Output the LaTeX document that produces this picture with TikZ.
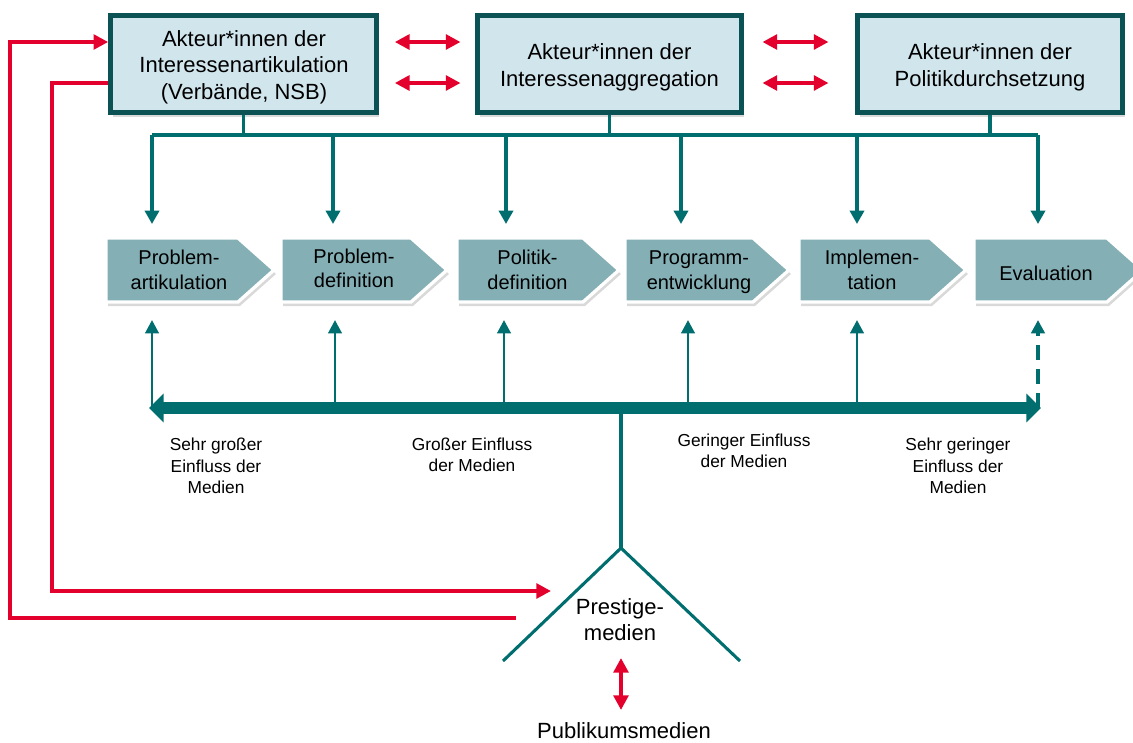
\documentclass[tikz,border=0pt]{standalone}
\usepackage{fontspec}
\setmainfont{Liberation Sans}
\usetikzlibrary{arrows.meta,shadows,calc}
\definecolor{tealline}{HTML}{006D6F}
\definecolor{boxline}{HTML}{0B5254}
\definecolor{boxfill}{HTML}{D1E5ED}
\definecolor{chevfill}{HTML}{83AFB5}
\definecolor{redline}{HTML}{E3002C}
\newcommand{\mychev}[2]{%
  \path[chevshape] (#1,238) -- ({#2-36},238) -- (#2,270) -- ({#2-36},302) -- (#1,302) -- cycle;}
\begin{document}
\begin{tikzpicture}[x=0.75pt,y=-0.75pt,
  akteur/.style={draw=boxline, line width=3.5pt, fill=boxfill,
    inner sep=0pt, minimum height=72.75pt,
    drop shadow={shadow xshift=2pt,shadow yshift=-3pt,opacity=0.3}},
  akttext/.style={align=center, font=\fontsize{16.5}{20}\selectfont, inner sep=0pt},
  chevshape/.style={fill=chevfill, draw=white, line width=2.5pt,
    drop shadow={shadow xshift=1.5pt,shadow yshift=-3pt,opacity=0.3}},
  chevtext/.style={align=center, font=\fontsize{15}{18.5}\selectfont, inner sep=0pt},
  medtext/.style={align=center, font=\fontsize{13}{16}\selectfont, inner sep=0pt},
  bigtext/.style={align=center, font=\fontsize{16.5}{19.5}\selectfont, inner sep=0pt},
  downarrow/.style={draw=tealline, line width=2.6pt, -{Triangle[width=10.5pt,length=10pt]}},
  uparrow/.style={draw=tealline, line width=2.2pt, -{Triangle[width=10pt,length=10pt]}},
  tealbus/.style={draw=tealline, line width=2.6pt},
  redarrow/.style={draw=redline, line width=3pt, -{Triangle[width=11pt,length=11pt]}},
  redboth/.style={draw=redline, line width=3pt, {Triangle[width=11pt,length=11pt]}-{Triangle[width=11pt,length=11pt]}},
]
\useasboundingbox (0,0) rectangle (1133,743);

% top actor boxes
\node[akteur, minimum width=199.5pt] (b1) at (243.5,64) {};
\node[akteur, minimum width=198pt] (b2) at (609.5,64) {};
\node[akteur, minimum width=198.75pt] (b3) at (990,64) {};
\node[akttext] (b1t) at (244,67) {Akteur*innen der\\Interessenartikulation\\(Verbände, NSB)};
\node[akttext] (b2t) at (609.5,67) {Akteur*innen der\\Interessenaggregation};
\node[akttext] (b3t) at (990,67) {Akteur*innen der\\Politikdurchsetzung};

% red arrows between boxes
\draw[redboth, shorten <=12pt, shorten >=11pt] ([yshift=16.5pt]b1.east) -- ([yshift=16.5pt]b2.west);
\draw[redboth, shorten <=12pt, shorten >=11pt] ([yshift=-14.25pt]b1.east) -- ([yshift=-14.25pt]b2.west);
\draw[redboth, shorten <=14pt, shorten >=20pt] ([yshift=16.5pt]b2.east) -- ([yshift=16.5pt]b3.west);
\draw[redboth, shorten <=14pt, shorten >=20pt] ([yshift=-14.25pt]b2.east) -- ([yshift=-14.25pt]b3.west);

% teal bus
\coordinate (busL) at (152,135);
\coordinate (busR) at (1038,135);
\draw[tealbus] (b1.south) -- (b1.south |- busL);
\draw[tealbus] (b2.south) -- (b2.south |- busL);
\draw[tealbus] (b3.south) -- (b3.south |- busL);
\draw[tealbus] (busL) -- (busR);
\foreach \i/\x in {1/152,2/333,3/506,4/681,5/857,6/1038}{
  \coordinate (d\i) at (\x,224);
  \draw[downarrow] (\x,135) -- (d\i);
}

% chevrons
\mychev{106}{274}
\mychev{281}{447}
\mychev{457}{619}
\mychev{625}{789}
\mychev{799}{966}
\mychev{974}{1143}
\node[chevtext] (c1) at (179,270) {Problem-\\artikulation};
\node[chevtext] (c2) at (354,268.5) {Problem-\\definition};
\node[chevtext] (c3) at (527.5,270) {Politik-\\definition};
\node[chevtext] (c4) at (699,272) {Programm-\\entwicklung};
\node[chevtext] (c5) at (872,270) {Implemen-\\tation};
\node[chevtext] (c6) at (1046,273) {Evaluation};

% media influence bar
\coordinate (barL) at (149,408);
\coordinate (barR) at (1041,408);
\foreach \i/\x in {1/152,2/335,3/504,4/688,5/857}{
  \coordinate (u\i) at (\x,320);
  \draw[uparrow] (\x,408) -- (u\i);
}
\coordinate (u6) at (1038,320);
\draw[uparrow, line width=2.6pt, dash pattern=on 11pt off 7pt] (1038,408) -- (u6);
\draw[draw=tealline, line width=9.5pt,
  {Triangle[width=21pt,length=11pt]}-{Triangle[width=21pt,length=11pt]}] (barL) -- (barR);

\node[medtext] (m1) at (216,466) {Sehr großer\\Einfluss der\\Medien};
\node[medtext] (m2) at (472,455) {Großer Einfluss\\der Medien};
\node[medtext] (m3) at (744,451) {Geringer Einfluss\\der Medien};
\node[medtext] (m4) at (958,466) {Sehr geringer\\Einfluss der\\Medien};

% prestige media triangle
\coordinate (barM) at (621,408);
\coordinate (apex) at (621,548);
\coordinate (triL) at (503,661);
\coordinate (triR) at (740,661);
\draw[tealbus, line width=2.3pt] (barM) -- (apex);
\draw[tealbus, line width=2.3pt] (triL) -- (apex) -- (triR);
\node[bigtext] (prest) at (620,620) {Prestige-\\medien};
\node[bigtext] (publ) at (624,731) {Publikumsmedien};
\draw[redboth] (621,658) -- (621,710);

% red feedback loops
\coordinate (outerStart) at (516,618);
\coordinate (innerEnd) at (551,591);
\draw[redarrow] (outerStart) -- (10,618) -- (10,42) -- ([yshift=16.5pt]b1.west);
\draw[redarrow] ([yshift=-14.25pt]b1.west) -- (52,83) -- (52,591) -- (innerEnd);
\end{tikzpicture}
\end{document}
